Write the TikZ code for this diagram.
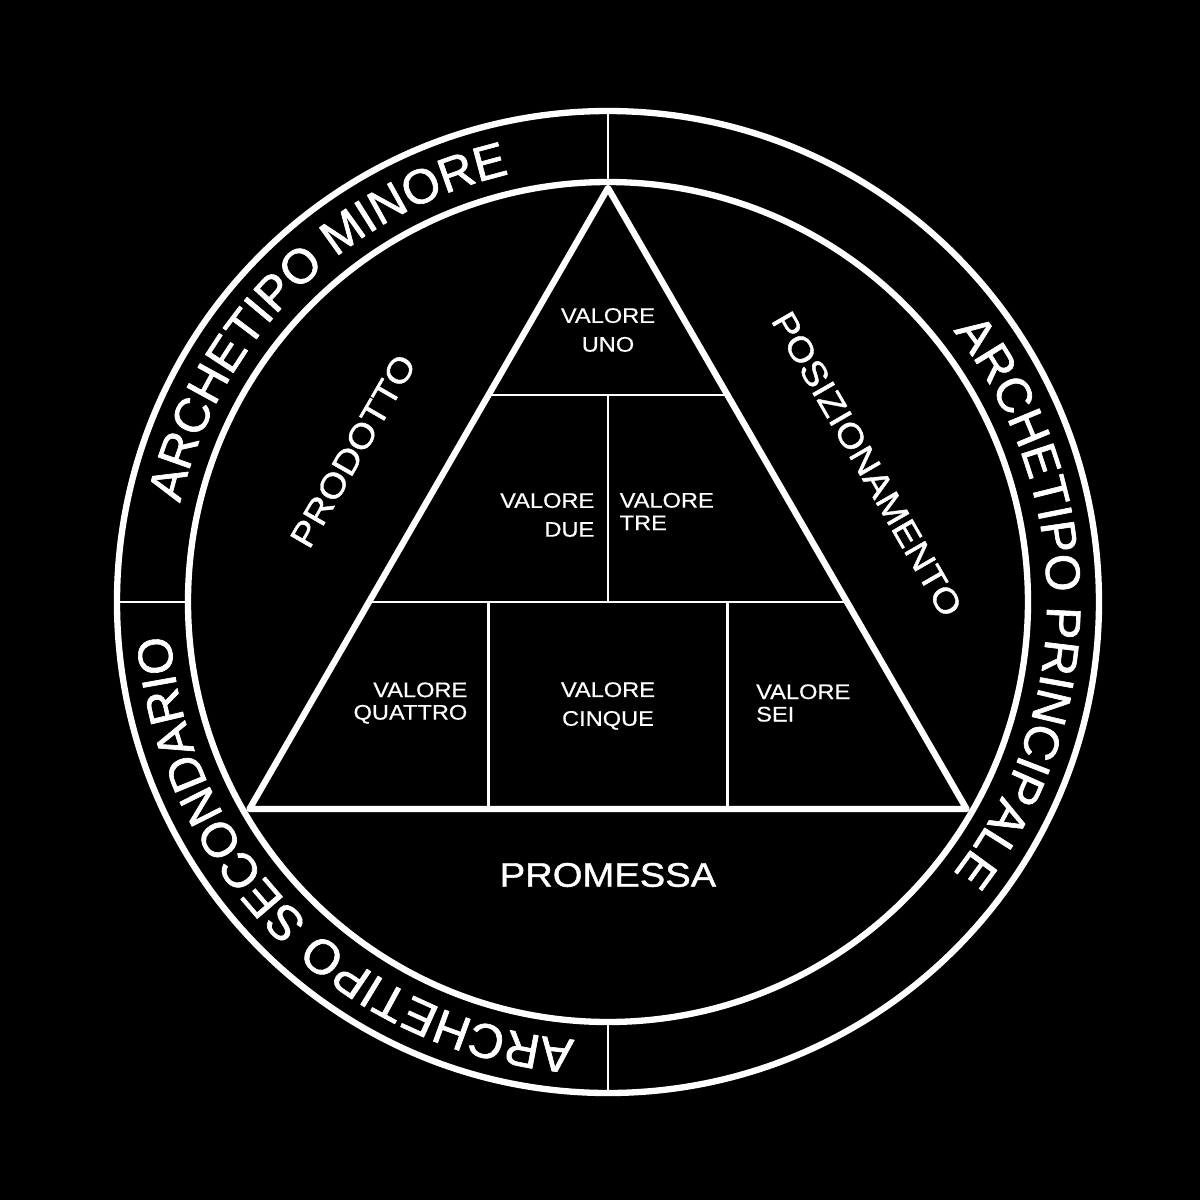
\documentclass[tikz,border=0pt]{standalone}
\usepackage{fontspec}
\setmainfont{Liberation Sans}
\newfontfamily\widefont[FakeStretch=1.12,FakeBold=0.5]{Liberation Sans}
\newfontfamily\heavyfont[FakeStretch=1.12,FakeBold=1.2]{Liberation Sans}
\newfontfamily\ringfamily[FakeBold=1.4]{Liberation Sans}
\usetikzlibrary{calc,decorations.text}

\newcommand{\ringfont}{\ringfamily\fontsize{13.8}{16}\selectfont\color{white}}

\begin{document}
\begin{tikzpicture}[
        white, line join=round,
        thickline/.style={line width=1.8pt},
        thinline/.style={line width=0.6pt},
        every node/.style={inner sep=0pt, text=white},
        valore/.style={font=\widefont\fontsize{6}{8.2}\selectfont},
        valoretight/.style={font=\widefont\fontsize{6}{6.4}\selectfont},
        region/.style={font=\heavyfont\fontsize{9.7}{11}\selectfont},
        archetipo/.style={decorate, decoration={text along path, text align=center, text={|\ringfont|#1}}}
      ]

      \fill[black] (-6.08,-5.98) rectangle (5.92,6.02);
      \coordinate (c) at (0,0);

      % ring
      \draw[thickline] (c) circle[radius=4.91];
      \draw[thickline] (c) circle[radius=4.20];
      \foreach \a in {90,180,270}
        \draw[thinline] (\a:4.20) -- (\a:4.91);

      \path[archetipo={ARCHETIPO MINORE}] (180:4.39) arc[start angle=180, end angle=90, radius=4.39];
      \path[archetipo={ARCHETIPO PRINCIPALE}] (90:4.39) arc[start angle=90, end angle=-90, radius=4.39];
      \path[archetipo={ARCHETIPO SECONDARIO}] (270:4.39) arc[start angle=270, end angle=180, radius=4.39];

      % pyramid
      \coordinate (apex) at (90:4.14);
      \coordinate (bl) at (210:4.14);
      \coordinate (br) at (330:4.14);
      \coordinate (l1) at ($(apex)!1/3!(bl)$);
      \coordinate (r1) at ($(apex)!1/3!(br)$);
      \coordinate (l2) at ($(apex)!2/3!(bl)$);
      \coordinate (r2) at ($(apex)!2/3!(br)$);
      \coordinate (b1) at ($(bl)!1/3!(br)$);
      \coordinate (b2) at ($(bl)!2/3!(br)$);

      \draw[thinline] (l1) -- (r1);
      \draw[thinline] (l2) -- (r2);
      \draw[thinline] ($(l1)!.5!(r1)$) -- ($(l2)!.5!(r2)$);
      \draw[thinline] (b1) -- (b1 |- l2);
      \draw[thinline] (b2) -- (b2 |- l2);
      \draw[thickline] (apex) -- (bl) -- (br) -- cycle;

      \node[valore, align=center] (uno) at (0,2.72) {VALORE\\UNO};
      \node[valore, align=right, anchor=east] (due) at (-0.13,0.87) {VALORE\\DUE};
      \node[valoretight, align=left, anchor=west] (tre) at (0.11,0.905) {VALORE\\TRE};
      \node[valoretight, align=right, anchor=east] (quattro) at (-1.40,-1.01) {VALORE\\QUATTRO};
      \node[valore, align=center] (cinque) at (0,-1.04) {VALORE\\CINQUE};
      \node[valoretight, align=left, anchor=west] (sei) at (1.475,-1.01) {VALORE\\SEI};

      \node[region, rotate=60] (prodotto) at (-2.55,1.51) {PRODOTTO};
      \node[region, rotate=-60] (posizionamento) at (2.59,1.38) {POSIZIONAMENTO};
      \node[region] (promessa) at (0,-2.73) {PROMESSA};

    \end{tikzpicture}
\end{document}
